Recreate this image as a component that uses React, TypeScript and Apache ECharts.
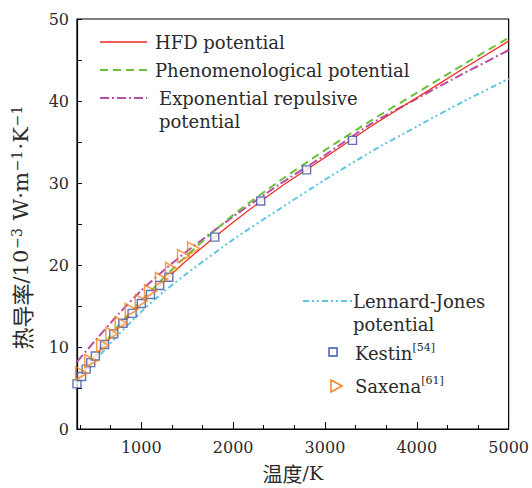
import { useEffect, useRef } from 'react';
import * as echarts from 'echarts';

// Temperatures (K) at which the model curves are sampled
const curveT = [300, 400, 500, 750, 1000, 1250, 1500, 2000, 2500, 3000, 3500, 4000, 4500, 5000];
// Thermal conductivity, 10^-3 W/(m K)
const hfdK = [5.6, 7.3, 8.8, 12.3, 15.2, 18.0, 20.6, 25.2, 29.4, 33.1, 36.9, 40.4, 43.9, 47.3];
const phenK = [5.9, 7.5, 9.0, 12.6, 15.6, 18.5, 21.2, 26.1, 30.2, 34.0, 37.6, 41.0, 44.4, 47.7];
const expK = [8.2, 9.5, 10.8, 14.0, 16.9, 19.4, 21.7, 25.9, 29.8, 33.4, 37.2, 40.3, 43.3, 46.2];
const ljK = [5.5, 7.0, 8.4, 11.5, 14.3, 16.8, 19.0, 23.1, 26.8, 30.4, 33.8, 36.9, 39.9, 42.7];

const kestinT = [300, 350, 400, 450, 500, 600, 700, 800, 900, 1000, 1100, 1200, 1300, 1800, 2300, 2800, 3300];
const kestinK = [5.5, 6.4, 7.3, 8.1, 8.9, 10.3, 11.6, 12.9, 14.1, 15.3, 16.4, 17.5, 18.5, 23.4, 27.8, 31.6, 35.2];

const saxenaT = [350, 450, 580, 680, 780, 890, 1000, 1100, 1220, 1330, 1460, 1570];
const saxenaK = [6.8, 8.3, 10.2, 11.6, 12.9, 14.5, 15.6, 16.8, 18.3, 19.5, 21.1, 22.0];

const xMajor = [1000, 2000, 3000, 4000, 5000];
const xMinor = [333.33, 666.67, 1333.33, 1666.67, 2333.33, 2666.67, 3333.33, 3666.67, 4333.33, 4666.67];

const C_RED = '#ee2a24';
const C_GREEN = '#6cbf3c';
const C_PURPLE = '#b64fa4';
const C_CYAN = '#5ec6de';
const C_BLUE = '#3d52a4';
const C_ORANGE = '#f5821f';

const DASH_GREEN = [8, 5];
const DASH_PURPLE = [9, 3, 2, 3];
const DASH_CYAN = [6, 3, 2, 3, 2, 3];

const SERIF = 'DejaVu Serif';
const CJK = 'Noto Sans CJK SC';
const TXT = '#2a2a2a';

const pair = (xs: number[], ys: number[]) => xs.map((x, i) => [x, ys[i]]);

export default function App() {
  const ref = useRef<HTMLDivElement>(null);
  useEffect(() => {
    const chart = echarts.init(ref.current!, null, { renderer: 'svg' });
    const supRich = {
      b: { fontFamily: SERIF, fontSize: 18, color: TXT },
      s: { fontFamily: SERIF, fontSize: 11, color: TXT, verticalAlign: 'top', padding: [0, 0, 7, 0] },
    };
    const legendText = (x: number, y: number, text: string) => ({
      type: 'text',
      x,
      y,
      style: {
        text,
        fontFamily: SERIF,
        fontSize: 18,
        fill: TXT,
        verticalAlign: 'middle',
        lineHeight: 23,
        rich: supRich,
      },
    });
    chart.setOption({
      animation: false,
      grid: {
        left: 77,
        right: 18,
        top: 19,
        bottom: 53,
        show: true,
        borderColor: '#000',
        borderWidth: 1.2,
      },
      xAxis: [
        {
          type: 'value',
          min: 300,
          max: 5000,
          position: 'bottom',
          axisLine: { lineStyle: { color: '#000', width: 1.2 } },
          axisTick: { inside: true, length: 7, customValues: xMajor, lineStyle: { color: '#000', width: 1 } },
          axisLabel: {
            customValues: xMajor,
            margin: 10,
            fontFamily: SERIF,
            fontSize: 16,
            color: TXT,
            formatter: (v: number) => String(Math.round(v)),
          },
          splitLine: { show: false },
          name: '{c|温度}{b|/K}',
          nameLocation: 'middle',
          nameGap: 34,
          nameTextStyle: {
            fontFamily: SERIF,
            fontSize: 19,
            color: TXT,
            rich: {
              c: { fontFamily: CJK, fontSize: 20, color: TXT },
              b: { fontFamily: SERIF, fontSize: 19, color: TXT },
            },
          },
        },
        {
          type: 'value',
          min: 300,
          max: 5000,
          position: 'bottom',
          axisLine: { show: false },
          axisTick: { inside: true, length: 4, customValues: xMinor, lineStyle: { color: '#000', width: 1 } },
          axisLabel: { show: false },
          splitLine: { show: false },
        },
      ],
      yAxis: {
        type: 'value',
        min: 0,
        max: 50,
        interval: 5,
        axisLine: { show: true, lineStyle: { color: '#000', width: 1.2 } },
        axisTick: { show: true, inside: true, length: 5, lineStyle: { color: '#000', width: 1 } },
        axisLabel: {
          margin: 8,
          fontFamily: SERIF,
          fontSize: 16,
          color: TXT,
          formatter: (v: number) => (v % 10 === 0 ? String(v) : ''),
        },
        splitLine: { show: false },
      },
      series: [
        {
          type: 'line',
          name: 'Lennard-Jones potential',
          data: pair(curveT, ljK),
          showSymbol: false,
          smooth: 0.2,
          lineStyle: { color: C_CYAN, width: 2, type: DASH_CYAN },
          z: 2,
        },
        {
          type: 'line',
          name: 'Exponential repulsive potential',
          data: pair(curveT, expK),
          showSymbol: false,
          smooth: 0.2,
          lineStyle: { color: C_PURPLE, width: 2, type: DASH_PURPLE },
          z: 2,
        },
        {
          type: 'line',
          name: 'Phenomenological potential',
          data: pair(curveT, phenK),
          showSymbol: false,
          smooth: 0.2,
          lineStyle: { color: C_GREEN, width: 2, type: DASH_GREEN },
          z: 2,
        },
        {
          type: 'line',
          name: 'HFD potential',
          data: pair(curveT, hfdK),
          showSymbol: false,
          smooth: 0.2,
          lineStyle: { color: C_RED, width: 1.3 },
          z: 3,
        },
        {
          type: 'scatter',
          name: 'Kestin',
          data: pair(kestinT, kestinK),
          symbol: 'rect',
          symbolSize: 8,
          itemStyle: { color: '#fff', borderColor: C_BLUE, borderWidth: 1.4 },
          z: 4,
        },
        {
          type: 'scatter',
          name: 'Saxena',
          data: pair(saxenaT, saxenaK),
          symbol: 'triangle',
          symbolSize: [13, 12],
          symbolRotate: -90,
          itemStyle: { color: 'rgba(255,255,255,0)', borderColor: C_ORANGE, borderWidth: 1.5 },
          z: 5,
        },
      ],
      graphic: [
        {
          type: 'text',
          x: 21,
          y: 227,
          rotation: Math.PI / 2,
          style: {
            text: '{c|热导率}{b|/10}{s|−3}{b| W·m}{s|−1}{b|·K}{s|−1}',
            align: 'center',
            verticalAlign: 'middle',
            fill: TXT,
            rich: {
              c: { fontFamily: CJK, fontSize: 22, color: TXT },
              b: { fontFamily: SERIF, fontSize: 21, color: TXT },
              s: { fontFamily: SERIF, fontSize: 14, color: TXT, verticalAlign: 'top', padding: [0, 1, 8, 1] },
            },
          },
        },
        { type: 'line', shape: { x1: 100, y1: 42, x2: 147, y2: 42 }, style: { stroke: C_RED, lineWidth: 1.3 } },
        legendText(155, 42, '{b|HFD potential}'),
        { type: 'line', shape: { x1: 100, y1: 70, x2: 147, y2: 70 }, style: { stroke: C_GREEN, lineWidth: 2, lineDash: DASH_GREEN } },
        legendText(155, 70, '{b|Phenomenological potential}'),
        { type: 'line', shape: { x1: 100, y1: 98, x2: 147, y2: 98 }, style: { stroke: C_PURPLE, lineWidth: 2, lineDash: DASH_PURPLE } },
        legendText(159, 98, '{b|Exponential repulsive}'),
        legendText(159, 121, '{b|potential}'),
        { type: 'line', shape: { x1: 303, y1: 301, x2: 352, y2: 301 }, style: { stroke: C_CYAN, lineWidth: 2, lineDash: DASH_CYAN } },
        legendText(353, 301, '{b|Lennard-Jones}'),
        legendText(353, 324, '{b|potential}'),
        { type: 'rect', shape: { x: 329, y: 348, width: 8, height: 8 }, style: { fill: '#fff', stroke: C_BLUE, lineWidth: 1.4 } },
        legendText(355, 353, '{b|Kestin}{s|[54]}'),
        { type: 'polygon', shape: { points: [[331, 380], [342, 386], [331, 392]] }, style: { fill: 'none', stroke: C_ORANGE, lineWidth: 1.5 } },
        legendText(355, 386, '{b|Saxena}{s|[61]}'),
      ],
    });
    return () => chart.dispose();
  }, []);
  return <div ref={ref} style={{ width: 532, height: 488, position: 'absolute', left: 0, top: 0 }} />;
}
